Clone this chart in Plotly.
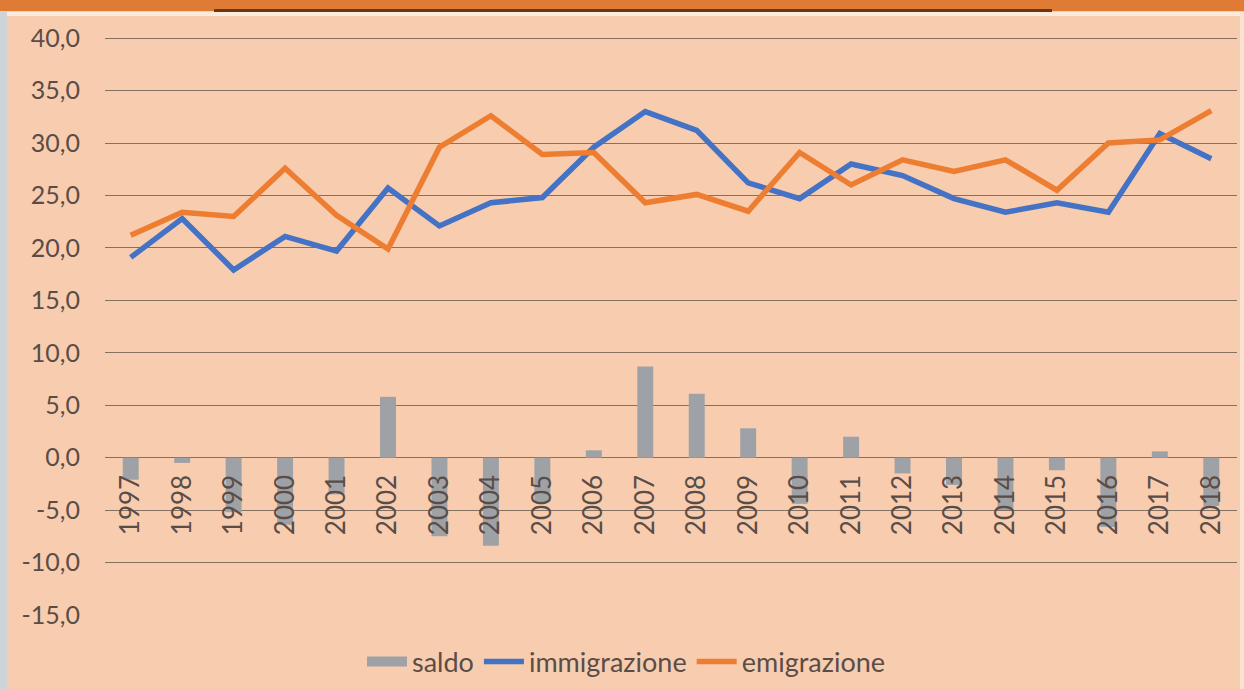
import plotly.graph_objects as go

years = [str(y) for y in range(1997, 2019)]
immigrazione = [19.1, 22.8, 17.9, 21.1, 19.7, 25.7, 22.1, 24.3, 24.8, 29.6, 33.0,
                31.2, 26.2, 24.7, 28.0, 26.9, 24.7, 23.4, 24.3, 23.4, 30.9, 28.5]
emigrazione = [21.2, 23.4, 23.0, 27.6, 23.1, 19.9, 29.6, 32.6, 28.9, 29.1, 24.3,
               25.1, 23.5, 29.1, 26.0, 28.4, 27.3, 28.4, 25.5, 30.0, 30.3, 33.1]
saldo = [-2.1, -0.5, -5.2, -6.4, -3.5, 5.8, -7.5, -8.4, -4.2, 0.7, 8.7,
         6.1, 2.8, -4.4, 2.0, -1.5, -2.6, -5.0, -1.2, -6.6, 0.6, -4.6]
y_ticks = [-15, -10, -5, 0, 5, 10, 15, 20, 25, 30, 35, 40]
y_tick_labels = [f"{v:.1f}".replace(".", ",") for v in y_ticks]

W, H = 1244, 689
L, R, T, B = 105, 7, 35, 74
PW, PH = W - L - R, H - T - B
YMIN, YMAX = -15, 40.3


def px(x):
    return (x - L) / PW


def py(y):
    return (H - B - y) / PH


FONT = "Lato"
TXT = "#5a4d47"
BG = "#F8CCAF"
BAR = "#9EA2A7"

fig = go.Figure()
fig.add_trace(go.Bar(x=years, y=saldo, name="saldo", marker_color=BAR,
                     marker_line_width=0, width=0.31, showlegend=False))
# legend-only entry so the swatch is a wide rectangle like the original
fig.add_trace(go.Scatter(x=[None], y=[None], name="saldo", mode="lines",
                         line=dict(color=BAR, width=16)))
fig.add_trace(go.Scatter(x=years, y=immigrazione, name="immigrazione", mode="lines",
                         line=dict(color="#4472C4", width=5.5)))
fig.add_trace(go.Scatter(x=years, y=emigrazione, name="emigrazione", mode="lines",
                         line=dict(color="#ED7D31", width=5.5)))

shapes = [
    dict(type="rect", xref="paper", yref="paper", x0=px(0), x1=px(W), y0=py(0), y1=py(11),
         fillcolor="#E07B35", line_width=0, layer="above"),
    dict(type="rect", xref="paper", yref="paper", x0=px(214), x1=px(1052), y0=py(9), y1=py(12),
         fillcolor="#6B3614", line_width=0, layer="above"),
    dict(type="rect", xref="paper", yref="paper", x0=px(0), x1=px(W), y0=py(12), y1=py(16),
         fillcolor="#FBEBDD", line_width=0, layer="above"),
    dict(type="rect", xref="paper", yref="paper", x0=px(0), x1=px(7), y0=py(12), y1=py(H),
         fillcolor="#CDD5DB", line_width=0, layer="above"),
    dict(type="rect", xref="paper", yref="paper", x0=px(1240), x1=px(W), y0=py(12), y1=py(H),
         fillcolor="#FBE3D2", line_width=0, layer="above"),
]

zero_pos = (0 - YMIN) / (YMAX - YMIN)

fig.update_layout(
    width=W, height=H,
    margin=dict(l=L, r=R, t=T, b=B, pad=0, autoexpand=False),
    paper_bgcolor=BG, plot_bgcolor=BG,
    font=dict(family=FONT, size=24, color=TXT),
    showlegend=True,
    legend=dict(orientation="h", x=px(362), xanchor="left", y=py(662), yanchor="middle",
                bgcolor="rgba(0,0,0,0)", font=dict(size=27, color=TXT),
                traceorder="normal", itemwidth=40),
    bargap=0.69,
    shapes=shapes,
    xaxis=dict(type="category", range=[-0.5, 21.5], anchor="free", position=zero_pos,
               showgrid=False, showline=False, zeroline=False, tickangle=-90,
               ticks="", ticklabelstandoff=11, tickfont=dict(size=26, color=TXT)),
    yaxis=dict(range=[YMIN, YMAX], tickvals=y_ticks, ticktext=y_tick_labels,
               showgrid=True, gridcolor="#86705F", gridwidth=1.3, zeroline=False,
               showline=False, ticks="", ticklabelstandoff=24,
               tickfont=dict(size=25, color=TXT)),
)

fig.write_html("out.html", config={"displayModeBar": False},
               post_script="document.body.style.margin='0';document.body.style.overflow='hidden';")
